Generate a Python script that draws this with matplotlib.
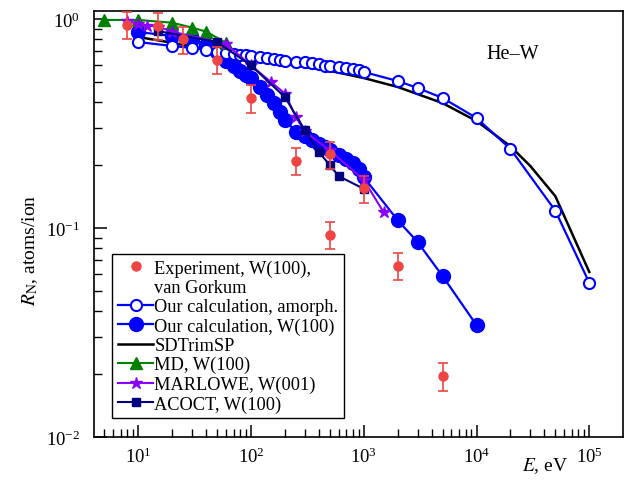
import matplotlib
matplotlib.use("Agg")
import matplotlib.pyplot as plt
from matplotlib.lines import Line2D
from matplotlib.ticker import LogLocator, NullFormatter

plt.rcParams['font.family'] = ['Liberation Serif', 'DejaVu Serif']
plt.rcParams['mathtext.fontset'] = 'stix'

# ---- data ----
exp_E = [8, 15, 25, 50, 100, 250, 500, 500, 1000, 2000, 5000]
exp_R = [0.94, 0.93, 0.80, 0.64, 0.42, 0.21, 0.225, 0.093, 0.155, 0.066, 0.0196]

amor_E = [10, 20, 30, 40, 50, 60, 70, 80, 90, 100, 120, 140, 160, 180, 200, 250, 300,
          350, 400, 450, 500, 600, 700, 800, 900, 1000, 2000, 3000, 5000, 10000,
          20000, 50000, 100000]
amor_R = [0.776, 0.743, 0.727, 0.711, 0.695, 0.688, 0.680, 0.673, 0.669, 0.665, 0.658,
          0.651, 0.643, 0.636, 0.630, 0.626, 0.623, 0.616, 0.606, 0.599, 0.596, 0.589,
          0.583, 0.577, 0.570, 0.558, 0.505, 0.468, 0.419, 0.336, 0.239, 0.121, 0.0547]

w100_E = [10, 20, 30, 40, 50, 60, 70, 80, 90, 100, 120, 140, 160, 180, 200, 250, 300,
          350, 400, 450, 500, 600, 700, 800, 900, 1000, 2000, 3000, 5000, 10000]
w100_R = [0.867, 0.829, 0.802, 0.751, 0.695, 0.630, 0.596, 0.564, 0.540, 0.522, 0.473,
          0.433, 0.396, 0.359, 0.329, 0.288, 0.276, 0.264, 0.252, 0.244, 0.236, 0.224,
          0.214, 0.205, 0.191, 0.175, 0.109, 0.0857, 0.0589, 0.0343]

sdt_E = [10, 20, 50, 100, 200, 500, 1000, 2000, 5000, 10000, 20000, 30000, 50000, 100000]
sdt_R = [0.82, 0.77, 0.70, 0.65, 0.61, 0.565, 0.522, 0.473, 0.396, 0.325, 0.246, 0.198,
         0.142, 0.0616]

md_E = [5, 10, 20, 30, 40, 60]
md_R = [0.99, 0.99, 0.96, 0.91, 0.87, 0.77]

marl_E = [8, 10, 12, 15, 20, 60, 100, 150, 200, 250, 300, 500, 1000, 1500]
marl_R = [0.98, 0.95, 0.93, 0.92, 0.87, 0.76, 0.60, 0.50, 0.44, 0.34, 0.29, 0.235, 0.17, 0.119]

acoct_E = [15, 50, 100, 200, 300, 400, 500, 600, 1000]
acoct_R = [0.876, 0.776, 0.60, 0.423, 0.294, 0.231, 0.20, 0.177, 0.154]

BLUE = '#0000FF'
RED = '#EE4444'
GREEN = '#008000'
PURPLE = '#8A00FF'
NAVY = '#000080'

fig = plt.figure(figsize=(6.28, 4.81), dpi=100)
ax = fig.add_axes([0.150, 0.0894, 0.842, 0.8856])

ax.plot(sdt_E, sdt_R, color='black', lw=1.8, zorder=2)
ax.plot(w100_E, w100_R, color=BLUE, lw=1.6, marker='o', ms=10, mfc=BLUE, mec=BLUE, zorder=3)
ax.plot(amor_E, amor_R, color=BLUE, lw=1.6, marker='o', ms=8, mfc='white', mec=BLUE,
        mew=1.5, zorder=4)
ax.plot(md_E, md_R, color=GREEN, lw=1.5, marker='^', ms=8, zorder=5)
ax.plot(marl_E, marl_R, color=PURPLE, lw=1.5, marker='*', ms=9, zorder=5)
ax.plot(acoct_E, acoct_R, color=NAVY, lw=1.5, marker='s', ms=6, zorder=6)
ax.errorbar(exp_E, exp_R, yerr=[0.15 * v for v in exp_R], fmt='o', color=RED, ms=6.5,
            elinewidth=1.2, capsize=3.5, capthick=1.2, zorder=7)

ax.set_xscale('log')
ax.set_yscale('log')
ax.set_xlim(4.07, 1.99e5)
ax.set_ylim(0.01, 1.092)

ax.xaxis.set_major_locator(LogLocator(base=10, numticks=10))
ax.xaxis.set_minor_locator(LogLocator(base=10, subs=range(2, 10), numticks=20))
ax.xaxis.set_minor_formatter(NullFormatter())
ax.yaxis.set_minor_formatter(NullFormatter())
ax.tick_params(which='both', direction='in', top=False, right=False, labelsize=13.5)
ax.tick_params(which='major', length=9, width=1.1)
ax.tick_params(which='minor', length=6, width=1.0)
ax.tick_params(axis='x', which='major', pad=7)
ax.tick_params(axis='y', which='major', pad=10)
for s in ax.spines.values():
    s.set_linewidth(1.2)

ax.set_ylabel(r'$R_\mathrm{N}$, atoms/ion', fontsize=14)
ax.yaxis.set_label_coords(-0.102, 0.44)
ax.text(0.853, -0.066, r'$E$, eV', transform=ax.transAxes, fontsize=14,
        ha='center', va='center')
ax.text((513 - 94) / 529, (438 - 54) / 426, 'He–W', transform=ax.transAxes,
        fontsize=14.5, ha='center', va='center')

handles = [
    Line2D([], [], ls='none', marker='o', color=RED, ms=6.5),
    Line2D([], [], ls='none'),
    Line2D([], [], color=BLUE, lw=1.6, marker='o', ms=8, mfc='white', mec=BLUE, mew=1.5),
    Line2D([], [], color=BLUE, lw=1.6, marker='o', ms=10),
    Line2D([], [], color='black', lw=1.8),
    Line2D([], [], color=GREEN, lw=1.5, marker='^', ms=8),
    Line2D([], [], color=PURPLE, lw=1.5, marker='*', ms=9),
    Line2D([], [], color=NAVY, lw=1.5, marker='s', ms=6),
]
labels = ['Experiment, W(100),', 'van Gorkum', 'Our calculation, amorph.',
          'Our calculation, W(100)', 'SDTrimSP', 'MD, W(100)', 'MARLOWE, W(001)',
          'ACOCT, W(100)']
leg = ax.legend(handles, labels, loc='lower left', bbox_to_anchor=(0.034, 0.0446),
                borderaxespad=0, fontsize=13.2, frameon=True, fancybox=False,
                edgecolor='black', framealpha=1, handlelength=1.95, handletextpad=0.05,
                labelspacing=0.12, borderpad=0.3)
leg.get_frame().set_linewidth(1.0)

fig.savefig('out.png', dpi=100)
